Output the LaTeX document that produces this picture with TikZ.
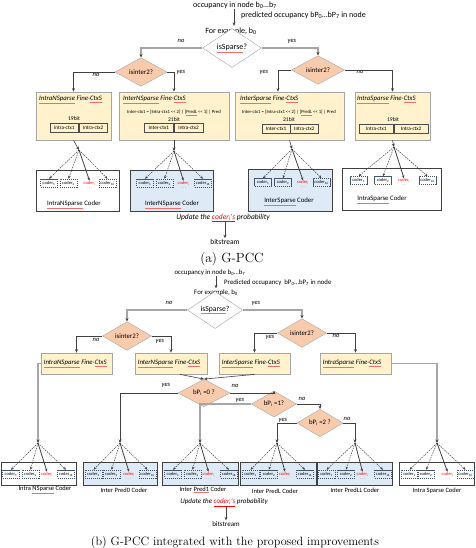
\documentclass[tikz,border=0pt]{standalone}
\usepackage{fontspec}
\newfontfamily\calfont{Carlito}
\usetikzlibrary{shapes.geometric,positioning,arrows.meta}

\definecolor{CtxColor}{RGB}{255,242,204}
\definecolor{AskColor}{RGB}{248,203,173}
\definecolor{CoderColor}{RGB}{222,235,247}
\definecolor{CellColor}{RGB}{68,84,106}
\definecolor{LineColor}{RGB}{64,64,64}
\definecolor{EdgeColor}{RGB}{166,166,166}
\definecolor{SpellColor}{RGB}{240,110,110}

% red spell-check underline
\newcommand{\sq}[1]{{\color{SpellColor}\underline{\color{black}#1}}}

\tikzset{
  txt/.style={inner sep=0pt, font=\calfont\fontsize{8}{9}\selectfont},
  txtb/.style={inner sep=0pt, font=\calfont\fontsize{6.8}{8}\selectfont},
  upd/.style={inner sep=0pt, font=\calfont\itshape\fontsize{7.5}{9}\selectfont},
  yn/.style={inner sep=0pt, font=\calfont\itshape\fontsize{6.5}{7}\selectfont},
  ttl/.style={inner sep=0pt, anchor=west, font=\calfont\itshape\fontsize{6.8}{8}\selectfont},
  small/.style={inner sep=0pt, font=\calfont\fontsize{4.7}{5.5}\selectfont},
  bitlbl/.style={inner sep=0pt, font=\calfont\fontsize{5.6}{6.5}\selectfont},
  captxt/.style={inner sep=0pt, font=\fontsize{13.3}{15}\selectfont},
  ctx/.style={draw=EdgeColor, fill=CtxColor, line width=0.8pt, inner sep=0pt},
  ctxcell/.style={draw=gray!60!black, fill=CtxColor, line width=0.4pt, inner sep=0pt,
    minimum height=9pt, font=\calfont\fontsize{5.2}{6}\selectfont},
  ask/.style={diamond, draw=EdgeColor, fill=AskColor, inner sep=0pt,
    font=\calfont\fontsize{6.8}{8}\selectfont},
  coderbox/.style={draw=LineColor, line width=0.9pt, inner sep=0pt},
  cell/.style={draw=CellColor, dash pattern=on 1.2pt off 0.8pt, line width=0.5pt, inner sep=0pt,
    minimum width=17pt, minimum height=8pt, font=\calfont\fontsize{4.5}{5}\selectfont},
  codi/.style={inner sep=0pt, text=red, font=\calfont\fontsize{4.5}{5}\selectfont},
  flow/.style={draw=LineColor, line width=0.6pt, -{Stealth[length=3.5pt,width=3pt]}},
  flowg/.style={draw=EdgeColor, line width=1.3pt, -{Stealth[length=3.5pt,width=3pt,color=LineColor]}},
  fan/.style={draw=LineColor, line width=0.5pt, dash pattern=on 1.5pt off 1pt,
    -{Stealth[length=3pt,width=2.5pt]}},
  pick/.style={draw=LineColor, line width=0.8pt, -{Stealth[length=3pt,width=2.5pt]}},
}

% four coders of one coder box, fed from the coordinate #1j
\newcommand{\coderrow}[6]{%
  \node[cell] (#1a) at (#2,#6) {coder\textsubscript{1}};
  \node[cell] (#1b) at (#3,#6) {coder\textsubscript{2}};
  \node[codi] (#1c) at (#4,#6) {coder\textsubscript{i}};
  \node[codi, text=gray, below=2pt of #1c] (#1e) {.\,.\,.};
  \node[cell] (#1d) at (#5,#6) {coder\textsubscript{16}};
  \draw[fan] (#1j) -- (#1a.north);
  \draw[fan] (#1j) -- (#1b.north);
  \draw[pick] (#1j) -- (#1c.north);
  \draw[fan] (#1j) -- (#1d.north);
}

\begin{document}
\begin{tikzpicture}[x=1pt, y=-1pt]
	\useasboundingbox (0,0) rectangle (475,548);

	% (a) G-PCC
	\node[txt] (occa) at (235,5) {occupancy in node b\textsubscript{0}\ldots b\textsubscript{7}};
	\node[txt] (exa) at (231,31) {For example, b\textsubscript{0}};
	\node[txt, anchor=west] (preda) at (241,15) {predicted occupancy bP\textsubscript{0}\ldots bP\textsubscript{7} in node};
	\draw[flow, shorten >=1.5pt] ([xshift=-1pt]occa.south) -- ([xshift=-1pt]occa.south |- exa.north);

	\node[ask, fill=white, minimum width=59pt, minimum height=23pt, font=\calfont\fontsize{8}{9}\selectfont] (spa) at (232,48) {\sq{isSparse}?};
	\node[ask, minimum width=52pt, minimum height=20pt] (ina1) at (141,72) {isinter2?};
	\node[ask, minimum width=53pt, minimum height=19pt] (ina2) at (318,70) {isinter2?};
	\draw[flowg] (spa.west) -| (ina1.north);
	\draw[flowg] (spa.east) -| (ina2.north);
	\node[yn] (spano) at (181,41) {no};
	\node[yn] (spayes) at (292,41) {yes};
	\node[yn] (ina1no) at (96,75) {no};
	\node[yn] (ina1yes) at (181,72) {yes};
	\node[yn] (ina2yes) at (264,72) {yes};
	\node[yn] (ina2no) at (360,72) {no};

	\node[ctx, minimum width=75pt, minimum height=48pt] (fa1) at (73.5,116) {};
	\node[ctx, minimum width=110pt, minimum height=48pt] (fa2) at (174,116) {};
	\node[ctx, minimum width=109pt, minimum height=48pt] (fa3) at (289.5,116) {};
	\node[ctx, minimum width=75pt, minimum height=48pt] (fa4) at (392.5,116) {};
	\draw[flow] (ina1.west) -| (fa1.north);
	\draw[flow] (ina1.east) -| (fa2.north);
	\draw[flow] (ina2.west) -| ([xshift=-11.5pt]fa3.north);
	\draw[flow] (ina2.east) -| (fa4.north);

	\node[ttl] (fa1t) at (39,100) {\sq{IntraNSparse} Fine-\sq{CtxS}};
	\node[ttl] (fa2t) at (123,100) {\sq{InterNSparse} Fine-\sq{CtxS}};
	\node[ttl] (fa3t) at (240,100) {\sq{InterSparse} Fine-\sq{CtxS}};
	\node[ttl] (fa4t) at (357,100) {\sq{IntraSparse} Fine-\sq{CtxS}};

	\node[bitlbl] (fa1b) at (74,119) {19bit};
	\node[ctxcell, minimum width=28.5pt] (fa1c1) at (64.25,127.5) {Intra-ctx1};
	\node[ctxcell, minimum width=28.5pt, right=0pt of fa1c1] (fa1c2) {Intra-ctx2};

	\node[small] (fa2f) at (174,113) {Inter-ctx1 = [Intra-ctx1 <\kern0pt< 2] | [\sq{PredL} <\kern0pt< 1] | Pred};
	\node[bitlbl] (fa2b) at (174,119.5) {21bit};
	\node[ctxcell, minimum width=29.5pt] (fa2c1) at (158.75,128) {Inter-ctx1};
	\node[ctxcell, minimum width=29.5pt, right=0pt of fa2c1] (fa2c2) {Intra-ctx2};

	\node[small] (fa3f) at (289,113) {Inter-ctx1 = [Intra-ctx1 <\kern0pt< 2] | [\sq{PredL} <\kern0pt< 1] | Pred};
	\node[bitlbl] (fa3b) at (289,119.5) {21bit};
	\node[ctxcell, minimum width=28pt] (fa3c1) at (276,128.5) {Inter-ctx1};
	\node[ctxcell, minimum width=28pt, right=0pt of fa3c1] (fa3c2) {Intra-ctx2};

	\node[bitlbl] (fa4b) at (393,119.5) {19bit};
	\node[ctxcell, minimum width=34.5pt] (fa4c1) at (376.25,128.5) {Intra-ctx1};
	\node[ctxcell, minimum width=34.5pt, right=0pt of fa4c1] (fa4c2) {Intra-ctx2};

	\node[coderbox, minimum width=83pt, minimum height=41pt] (ca1) at (77.5,190.5) {};
	\node[coderbox, fill=CoderColor, minimum width=83pt, minimum height=41pt] (ca2) at (171.5,190.5) {};
	\node[coderbox, fill=CoderColor, minimum width=84pt, minimum height=42pt] (ca3) at (290,190) {};
	\node[coderbox, minimum width=99pt, minimum height=42pt] (ca4) at (391.5,189) {};
	\node[txtb] (ca1l) at (74,204.5) {\sq{IntraNSparse} Coder};
	\node[txtb] (ca2l) at (172,205) {\sq{InterNSparse} Coder};
	\node[txtb] (ca3l) at (289,202) {\sq{InterSparse} Coder};
	\node[txtb] (ca4l) at (382,200) {\sq{IntraSparse} Coder};

	\coordinate (ca1j) at (79,150);
	\coordinate (ca2j) at (174,151);
	\coordinate (ca3j) at (292,149);
	\coordinate (ca4j) at (394,147);
	\draw[flow] (fa1.south) -- (ca1j);
	\draw[flow] (fa2.south) -- (ca2j);
	\draw[flow] (fa3.south) -- (ca3j);
	\draw[flow] (fa4.south) -- (ca4j);
	\coderrow{ca1}{49}{68.5}{89.5}{107.5}{183}
	\coderrow{ca2}{145}{164.5}{183.5}{203}{183}
	\coderrow{ca3}{263}{283}{303}{321.5}{182.5}
	\coderrow{ca4}{358.5}{383}{404}{427.5}{180.5}

	\node[upd] (upda) at (223,218) {Update the \textcolor{red}{\underline{coder\textsubscript{i}'s}} probability};
	\node[txt, font=\calfont\fontsize{7.5}{9}\selectfont] (bitsa) at (225,242) {bitstream};
	\draw[flow, shorten >=1pt] (upda.south -| bitsa) -- (bitsa.north);
	\node[captxt] (capa) at (232,259) {(a) G-PCC};

	% (b) G-PCC with the proposed improvements
	\node[txtb] (occb) at (210,273) {occupancy in node b\textsubscript{0}\ldots b\textsubscript{7}};
	\node[txtb, anchor=west] (predb) at (224,283) {Predicted occupancy \ bP\textsubscript{0}\ldots bP\textsubscript{7} in node};
	\node[txtb] (exb) at (216,293) {For example, b\textsubscript{0}};
	\draw[flow, shorten >=1.5pt] (exb.north |- occb.south) -- (exb.north);

	\node[ask, fill=white, minimum width=55pt, minimum height=23pt, font=\calfont\fontsize{7.6}{9}\selectfont] (spb) at (215,310) {\sq{isSparse}?};
	\node[ask, minimum width=49pt, minimum height=17pt] (inb1) at (127,336) {isinter2?};
	\node[ask, minimum width=49pt, minimum height=19pt] (inb2) at (302,333) {isinter2?};
	\draw[flowg] (spb.west) -| (inb1.north);
	\draw[flowg] (spb.east) -| (inb2.north);
	\node[yn] (spbno) at (169,303) {no};
	\node[yn] (spbyes) at (256,303) {yes};
	\node[yn] (inb1no) at (96,340) {no};
	\node[yn] (inb1yes) at (160,341) {yes};
	\node[yn] (inb2yes) at (270,337) {yes};
	\node[yn] (inb2no) at (336,336) {no};

	\node[ctx, minimum width=71pt, minimum height=21pt] (fb1) at (76.5,363.5) {};
	\node[ctx, minimum width=72pt, minimum height=21pt] (fb2) at (171,363.5) {};
	\node[ctx, minimum width=71pt, minimum height=21pt] (fb3) at (254.5,363.5) {};
	\node[ctx, minimum width=71pt, minimum height=21pt] (fb4) at (355.5,363.5) {};
	\node[ttl] (fb1t) at ([xshift=3pt]fb1.west) {\sq{IntraNSparse} Fine-\sq{CtxS}};
	\node[ttl] (fb2t) at ([xshift=3pt]fb2.west) {\sq{InterNSparse} Fine-\sq{CtxS}};
	\node[ttl] (fb3t) at ([xshift=3pt]fb3.west) {\sq{InterSparse} Fine-\sq{CtxS}};
	\node[ttl] (fb4t) at ([xshift=3pt]fb4.west) {\sq{IntraSparse} Fine-\sq{CtxS}};
	\draw[flow] (inb1.west) -| (fb1.north);
	\draw[flow] (inb1.east) -| (fb2.north);
	\draw[flow] (inb2.west) -| (fb3.north);
	\draw[flow] (inb2.east) -| (fb4.north);

	\node[ask, minimum width=52pt, minimum height=16pt] (p0) at (204,393) {bP\textsubscript{i} =0 ?};
	\node[ask, minimum width=45pt, minimum height=14pt] (p1) at (274,404) {bP\textsubscript{i} =1?};
	\node[ask, minimum width=46pt, minimum height=14pt] (p2) at (320,423) {bP\textsubscript{i} =2 ?};
	\draw[flow] ([xshift=9pt]fb2.south) -- (p0.north);
	\draw[flow] (fb3.south) -- (p0.north);
	\draw[flow] (p0.east) -| (p1.north);
	\draw[flow] (p1.east) -| (p2.north);
	\node[yn] (p0yes) at (166,385) {yes};
	\node[yn] (p0no) at (235,386) {no};
	\node[yn] (p1yes) at (240,400) {yes};
	\node[yn] (p1no) at (302,399) {no};
	\node[yn] (p2yes) at (283,420) {yes};
	\node[yn] (p2no) at (347,419) {no};

	\coordinate (cb1j) at (38,443);
	\coordinate (cb2j) at (120,443);
	\coordinate (cb3j) at (200,443);
	\coordinate (cb4j) at (277,443);
	\coordinate (cb5j) at (355,443);
	\coordinate (cb6j) at (437,443);
	\draw[flowg] (fb1.west) -| (cb1j);
	\draw[flow] (p0.west) -| (cb2j);
	\draw[flowg] (p1.west) -| (cb3j);
	\draw[flow] (p2.west) -| (cb4j);
	\draw[flow] (p2.east) -| (cb5j);
	\draw[flowg] (fb4.east) -| (cb6j);

	\node[coderbox, minimum width=75pt, minimum height=23pt] (cb1) at (38.5,473.5) {};
	\node[coderbox, fill=CoderColor, minimum width=74pt, minimum height=23pt] (cb2) at (120,473.5) {};
	\node[coderbox, fill=CoderColor, minimum width=76pt, minimum height=23pt] (cb3) at (200,473.5) {};
	\node[coderbox, fill=CoderColor, minimum width=76pt, minimum height=23pt] (cb4) at (278,473.5) {};
	\node[coderbox, fill=CoderColor, minimum width=75pt, minimum height=23pt] (cb5) at (354.5,473.5) {};
	\node[coderbox, minimum width=75pt, minimum height=23pt] (cb6) at (436.5,473.5) {};
	\coderrow{cb1}{11}{30.5}{47}{66}{474}
	\coderrow{cb2}{93.5}{111.5}{129}{147.5}{474}
	\coderrow{cb3}{173}{192.5}{208.5}{229}{474}
	\coderrow{cb4}{250.5}{269}{285}{305}{474}
	\coderrow{cb5}{326.5}{346}{362.5}{383}{474}
	\coderrow{cb6}{409.5}{426}{447.5}{465.5}{474}
	\node[txtb, font=\calfont\fontsize{6.5}{8}\selectfont] (cb1l) at (45,490) {Intra \sq{NSparse} Coder};
	\node[txtb, font=\calfont\fontsize{6.5}{8}\selectfont] (cb2l) at (124,490) {Inter Pred0 Coder};
	\node[txtb, font=\calfont\fontsize{6.5}{8}\selectfont] (cb3l) at (203,490) {Inter \sq{Pred1} Coder};
	\node[txtb, font=\calfont\fontsize{6.5}{8}\selectfont] (cb4l) at (275,491) {Inter PredL Coder};
	\node[txtb, font=\calfont\fontsize{6.5}{8}\selectfont] (cb5l) at (355,490) {Inter PredLL Coder};
	\node[txtb, font=\calfont\fontsize{6.5}{8}\selectfont] (cb6l) at (437,491) {Intra Sparse Coder};

	\node[upd, font=\calfont\itshape\fontsize{7}{8}\selectfont] (updb) at (224,503) {Update the \textcolor{red}{\underline{coder\textsubscript{i}'s}} probability};
	\node[txtb, font=\calfont\fontsize{7}{8}\selectfont] (bitsb) at (226,524) {bitstream};
	\draw[flow, shorten >=1pt] ([xshift=2pt]updb.south) -- ([xshift=2pt]updb.south |- bitsb.north);
	\node[captxt, font=\fontsize{12.1}{14}\selectfont] (capb) at (235,542) {(b) G-PCC integrated with the proposed improvements};
\end{tikzpicture}
\end{document}
